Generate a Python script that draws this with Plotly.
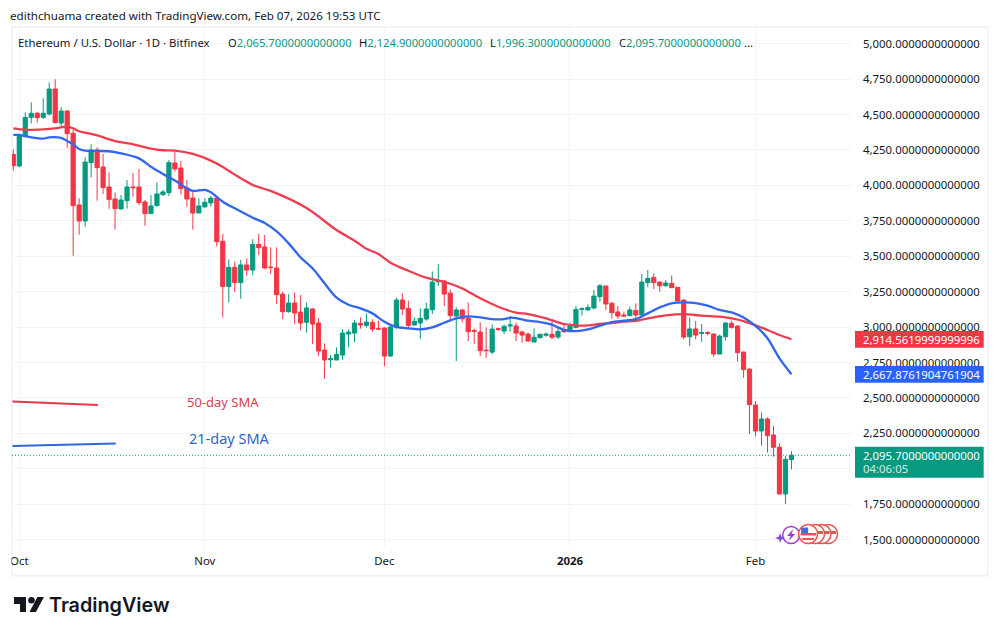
import pandas as pd
import plotly.graph_objects as go

# ---------- data ----------
first_day = "2025-09-30"
opens = [4219,4137,4344,4480,4509,4480,4504,4680,4440,4525,4368,3862,3749,4161,4250,4130,3989,3904,3834,3892,3989,3989,3883,3801,3857,3935,3949,4158,4123,3982,3911,3805,
         3848,3876,3911,3606,3286,3422,3314,3439,3403,3584,3566,3424,3417,3233,3109,3170,3106,3034,3128,3029,2838,2770,2768,2803,2951,2958,3026,3012,3034,2991,
         2994,2796,2998,3191,3132,3015,3029,3057,3123,3320,3325,3240,3078,3121,3064,2975,2965,2838,2824,2989,2972,3008,3008,2965,2951,2895,2925,2942,2949,2930,2975,
         2968,2998,3125,3121,3135,3215,3290,3168,3107,3085,3081,3118,3085,3314,3351,3318,3292,3309,3281,3191,2932,2987,2956,2961,2951,2810,2932,3027,3008,2824,2704,
         2450,2267,2352,2239,2152,1822,2065.7]
highs = [4255,4356,4516,4586,4520,4615,4727,4749,4551,4532,4396,3909,4198,4290,4269,4222,4092,3951,3932,4038,4088,4116,3897,3932,4022,3968,4179,4245,4172,4038,3956,3909,
         3909,3925,3921,3657,3478,3462,3474,3486,3620,3657,3650,3563,3563,3250,3233,3245,3226,3175,3132,3062,2885,2803,2857,2986,2984,3050,3069,3097,3055,3045,
         2996,3022,3210,3238,3186,3069,3132,3172,3393,3445,3332,3266,3139,3128,3175,2989,3034,2998,3019,2995,3019,3078,3031,2975,2961,2991,2956,2961,3055,2991,3015,
         3031,3149,3139,3161,3262,3304,3290,3179,3149,3109,3144,3168,3375,3403,3379,3321,3332,3365,3281,3196,3069,3043,3022,2972,2956,2947,3034,3045,3012,2827,2709,
         2479,2399,2363,2302,2180,2090,2124.9]
lows = [4104,4128,4339,4438,4443,4469,4492,4438,4415,4266,3504,3653,3709,4057,3892,3940,3836,3688,3831,3836,3921,3862,3716,3798,3852,3925,3925,4097,3935,3850,3688,3805,
        3845,3850,3568,3067,3173,3248,3199,3361,3368,3509,3408,3375,3163,3057,3102,3022,2975,2961,2881,2796,2634,2714,2768,2768,2859,2895,2989,2998,2965,2979,
        2725,2791,2986,3085,2989,3012,2918,3045,3092,3290,3149,3050,2761,3034,2902,2883,2796,2784,2810,2972,2951,2968,2902,2890,2897,2895,2921,2932,2914,2918,2961,
        2968,2991,3081,3116,3125,3179,3121,3062,3057,3078,3078,3062,3083,3281,3269,3250,3285,3278,3175,2914,2867,2914,2897,2942,2791,2810,2904,2989,2756,2643,2246,
        2227,2163,2114,2086,1822,1752,1996.3]
closes = [4139,4349,4480,4509,4478,4509,4680,4443,4525,4365,3857,3749,4165,4250,4125,3984,3900,3836,3897,3989,3984,3878,3801,3855,3940,3954,4161,4116,3977,3904,3805,3855,
          3881,3911,3603,3286,3422,3314,3439,3403,3584,3561,3417,3420,3229,3109,3170,3099,3029,3135,3022,2831,2768,2777,2808,2958,2965,3029,3015,3036,2986,2986,
          2796,3001,3191,3128,3012,3041,3062,3128,3318,3328,3233,3081,3121,3059,2968,2970,2834,2834,2986,2984,3005,3015,2958,2944,2902,2928,2949,2951,2928,2970,2968,
          3008,3125,3130,3139,3219,3292,3163,3102,3078,3078,3121,3085,3318,3344,3314,3292,3311,3278,3184,2930,2987,2944,2961,2956,2810,2937,3029,2998,2820,2700,2453,
          2267,2352,2234,2152,1822,2067,2095.7]

sma50_dates = ["2025-09-30","2025-10-02","2025-10-05","2025-10-07","2025-10-09","2025-10-10","2025-10-11","2025-10-12","2025-10-14","2025-10-17","2025-10-20","2025-10-23","2025-10-25","2025-10-27","2025-10-30","2025-11-02","2025-11-04","2025-11-06","2025-11-09","2025-11-12","2025-11-18","2025-11-23","2025-11-26","2025-11-28","2025-11-30","2025-12-02","2025-12-05","2025-12-08","2025-12-11","2025-12-14","2025-12-17","2025-12-20","2025-12-23","2025-12-25","2025-12-28","2025-12-31","2026-01-02","2026-01-04","2026-01-06","2026-01-08","2026-01-10","2026-01-12","2026-01-14","2026-01-17","2026-01-20","2026-01-23","2026-01-26","2026-01-28","2026-01-30","2026-02-01","2026-02-03","2026-02-05","2026-02-07"]
sma50 = [4403,4393,4396,4403,4415,4403,4382,4372,4353,4313,4290,4259,4248,4245,4222,4175,4130,4076,4003,3961,3840,3685,3610,3553,3516,3455,3398,3349,3320,3273,3203,3144,3102,3092,3062,3022,3012,3012,3022,3029,3038,3045,3062,3083,3092,3081,3074,3062,3043,3012,2980,2944,2914.56]

sma21_dates = ["2025-09-30","2025-10-01","2025-10-03","2025-10-05","2025-10-06","2025-10-08","2025-10-09","2025-10-10","2025-10-11","2025-10-12","2025-10-14","2025-10-16","2025-10-18","2025-10-21","2025-10-23","2025-10-25","2025-10-27","2025-10-29","2025-10-30","2025-11-01","2025-11-02","2025-11-04","2025-11-06","2025-11-09","2025-11-11","2025-11-13","2025-11-15","2025-11-17","2025-11-19","2025-11-21","2025-11-23","2025-11-25","2025-11-27","2025-11-29","2025-12-01","2025-12-03","2025-12-05","2025-12-07","2025-12-09","2025-12-11","2025-12-13","2025-12-15","2025-12-17","2025-12-19","2025-12-21","2025-12-22","2025-12-23","2025-12-25","2025-12-27","2025-12-29","2025-12-31","2026-01-02","2026-01-04","2026-01-06","2026-01-08","2026-01-10","2026-01-12","2026-01-14","2026-01-16","2026-01-18","2026-01-20","2026-01-22","2026-01-24","2026-01-26","2026-01-28","2026-01-30","2026-02-01","2026-02-03","2026-02-05","2026-02-07"]
sma21 = [4356,4356,4339,4330,4339,4335,4313,4290,4257,4245,4243,4241,4226,4191,4132,4081,4034,3979,3961,3968,3951,3885,3838,3772,3735,3675,3591,3492,3415,3309,3208,3158,3132,3097,3038,3001,2991,2984,2998,3031,3062,3076,3069,3057,3057,3066,3064,3045,3036,3017,2980,2972,2984,3010,3036,3045,3057,3097,3139,3168,3175,3170,3151,3121,3104,3067,3008,2921,2780,2667.88]

month_ticks = ["2025-10-01","2025-11-01","2025-12-01","2026-01-01","2026-02-01"]
month_labels = ["Oct","Nov","Dec","<b>2026</b>","Feb"]
price_ticks = [1500,1750,2000,2250,2500,2750,3000,3250,3500,3750,4000,4250,4500,4750,5000]
price_labels = ["1,500.0000000000000","1,750.0000000000000","","2,250.0000000000000","2,500.0000000000000","2,750.0000000000000","3,000.0000000000000","3,250.0000000000000","3,500.0000000000000","3,750.0000000000000","4,000.0000000000000","4,250.0000000000000","4,500.0000000000000","4,750.0000000000000","5,000.0000000000000"]

attribution = "edithchuama created with TradingView.com, Feb 07, 2026 19:53 UTC"
symbol_line = "Ethereum / U.S. Dollar · 1D · Bitfinex"
ohlc_labels = ["O","H","L","C"]
ohlc_values = ["2,065.7000000000000","2,124.9000000000000","1,996.3000000000000","2,095.7000000000000"]
sma50_tag = "2,914.5619999999996"
sma21_tag = "2,667.8761904761904"
last_tag = "2,095.7000000000000"
countdown = "04:06:05"

# ---------- style ----------
W, H = 998, 635
L, R, T, B = 10, 146, 27, 88
RED, GREEN, BLUE = "#f23645", "#089981", "#2962ff"
INK = "#131722"
GRID = "#f2f4f9"
FONT = "Noto Sans"
FS = 11.4

def xp(px): return (px - L) / (W - L - R)
def yp(py): return 1 - (py - T) / (H - T - B)

dates = pd.date_range(first_day, periods=len(opens), freq="D")
oct1 = pd.Timestamp("2025-10-01")
x_range = [oct1 + pd.Timedelta(days=-7.3 / 6), oct1 + pd.Timedelta(days=834.7 / 6)]

fig = go.Figure()
fig.add_trace(go.Candlestick(
    x=dates, open=opens, high=highs, low=lows, close=closes,
    increasing=dict(line=dict(color=GREEN, width=1), fillcolor=GREEN),
    decreasing=dict(line=dict(color=RED, width=1), fillcolor=RED),
    whiskerwidth=0, showlegend=False, hoverinfo="skip"))
fig.add_trace(go.Scatter(x=sma50_dates, y=sma50, mode="lines", line=dict(color="#ee3d4e", width=2.3, shape="spline", smoothing=0.8), showlegend=False, hoverinfo="skip"))
fig.add_trace(go.Scatter(x=sma21_dates, y=sma21, mode="lines", line=dict(color="#3366ee", width=2.3, shape="spline", smoothing=0.8), showlegend=False, hoverinfo="skip"))

shapes, ann = [], []

def rect(x0, y0, x1, y1, fill, line=None, lw=0):
    shapes.append(dict(type="rect", xref="paper", yref="paper", x0=xp(x0), x1=xp(x1), y0=yp(y1), y1=yp(y0),
                       fillcolor=fill, line=dict(color=line or fill, width=lw), layer="above"))

def circle(cx, cy, r, fill, line, lw):
    shapes.append(dict(type="circle", xref="paper", yref="paper", x0=xp(cx - r), x1=xp(cx + r), y0=yp(cy + r), y1=yp(cy - r),
                       fillcolor=fill, line=dict(color=line, width=lw), layer="above"))

def path(points, fill, line=None, lw=0):
    d = "M " + " L ".join(f"{xp(a):.5f},{yp(b):.5f}" for a, b in points) + " Z"
    shapes.append(dict(type="path", xref="paper", yref="paper", path=d, fillcolor=fill, line=dict(color=line or fill, width=lw), layer="above"))

def seg(x0, y0, x1, y1, color, lw):
    shapes.append(dict(type="line", xref="paper", yref="paper", x0=xp(x0), x1=xp(x1), y0=yp(y0), y1=yp(y1),
                       line=dict(color=color, width=lw), layer="above"))

def text(px, py, s, color=INK, size=FS, font=FONT, anchor="left", weight=None):
    f = dict(family=font, size=size, color=color)
    if weight: f["weight"] = weight
    ann.append(dict(xref="paper", yref="paper", x=xp(px), y=yp(py), text=s, showarrow=False, font=f,
                    xanchor=anchor, yanchor="middle", borderpad=0, borderwidth=0, align="left"))

# frame and mask for the clipped first month label
rect(0, 530, 9.5, 572, "#ffffff")
shapes.append(dict(type="rect", xref="paper", yref="paper", x0=xp(10), x1=xp(988), y0=yp(575.7), y1=yp(27),
                   fillcolor="rgba(0,0,0,0)", line=dict(color="#f0f3fa", width=2), layer="below"))

# last-price dotted line
shapes.append(dict(type="line", xref="paper", yref="y", x0=0, x1=1, y0=2095.7, y1=2095.7,
                   line=dict(color=GREEN, width=1, dash="1px,2px"), layer="above"))

# hand-drawn keys
seg(10.5, 401.5, 96, 405, "#e3394b", 2)
seg(10.5, 446, 114, 443.5, "#3366dd", 2)
text(185, 402, "50-day SMA", color="#d8404f", size=13)
text(187, 438, "21-day SMA", color="#2f62cc", size=14.5)

# price tags
rect(855, 331, 984, 347.7, RED)
rect(855, 366, 984, 382.7, BLUE)
rect(855, 446.7, 984, 477.7, GREEN)
text(863, 339.3, sma50_tag, color="#ffffff")
text(863, 374.3, sma21_tag, color="#ffffff")
text(863, 455, last_tag, color="#ffffff")
text(863, 468.5, countdown, color="#cdeee7")

# header text
text(8, 15, attribution, size=11.6)
text(16, 42, symbol_line)
for px, lab, val in zip([227, 358, 489, 618], ohlc_labels, ohlc_values):
    text(px, 42, f"{lab}<span style='color:{GREEN}'>{val}</span>", size=11.2)
text(744, 42, "...")

# event icons
circle(791, 535, 8.5, "#ffffff", "#9c3fc8", 1.5)
path([(793, 529), (787, 536), (790.5, 536), (788.5, 541), (795, 534), (791.5, 534)], "#9c3fc8")
path([(780, 533), (781.3, 536.5), (785, 538), (781.3, 539.5), (780, 543), (778.7, 539.5), (775, 538), (778.7, 536.5)], "#7b4fe0")
for cx in [828, 821.5, 815]:
    circle(cx, 534, 9.5, "#ffffff", "#ef5350", 1.5)
    rect(cx + 2, 531, cx + 8, 534, "#ef5350")
circle(808, 534, 9.5, "#ffffff", "#ef5350", 1.5)
rect(800.5, 533, 816, 535.5, "#ef5350")
rect(802, 538, 814, 540, "#ef5350")
rect(801, 527.5, 808, 533.5, "#3f6fd8")

# logo
path([(12, 597), (24, 597), (24, 612), (18, 612), (18, 604), (12, 604)], "#131722")
circle(29.5, 600.3, 3.3, "#131722", "#131722", 0)
path([(35.5, 597), (42, 597), (34, 612), (27.5, 612)], "#131722")
text(47, 605, "TradingView", color="#131722", size=19.8, font="Inter", weight=600)

fig.update_layout(
    width=W, height=H, autosize=False,
    margin=dict(l=L, r=R, t=T, b=B, pad=0),
    paper_bgcolor="#ffffff", plot_bgcolor="#ffffff",
    boxgap=0.3, boxgroupgap=0,
    font=dict(family=FONT, size=FS, color=INK),
    shapes=shapes, annotations=ann,
    xaxis=dict(type="date", range=x_range, rangeslider=dict(visible=False), tickmode="array",
               tickvals=month_ticks, ticktext=month_labels, showgrid=True, gridcolor=GRID, gridwidth=1,
               zeroline=False, showline=False, ticks="", ticklabelstandoff=6, tickfont=dict(family=FONT, size=FS, color=INK)),
    yaxis=dict(side="right", range=[1448.4, 5117.8], tickmode="array", tickvals=price_ticks, ticktext=price_labels, showgrid=True,
               gridcolor=GRID, gridwidth=1, zeroline=False, showline=False, ticks="", ticklabelstandoff=10,
               tickfont=dict(family=FONT, size=FS, color=INK)),
)

fig.write_html("out.html", config=dict(displayModeBar=False), post_script="document.body.style.margin='0';")
